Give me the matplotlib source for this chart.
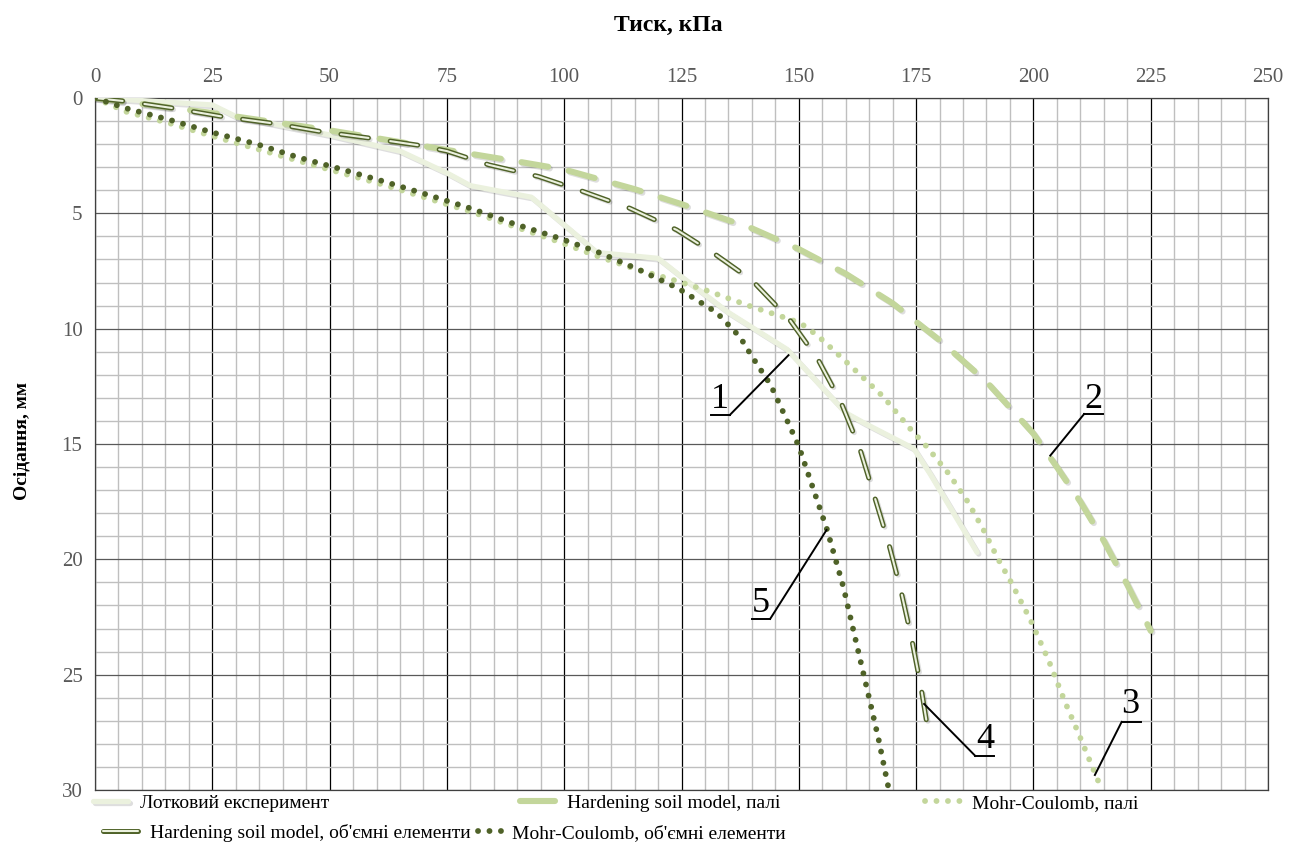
import matplotlib
matplotlib.use('Agg')
import matplotlib.pyplot as plt
import matplotlib.patheffects as pe
from matplotlib.ticker import MultipleLocator
from matplotlib.lines import Line2D

plt.rcParams['font.family'] = ['Liberation Serif', 'DejaVu Serif']
plt.rcParams['lines.scale_dashes'] = False

# Лотковий експеримент
exp_p = [0, 7.5, 25, 30, 50, 65, 75, 80, 93, 100, 107, 120, 125, 135, 147.5, 160, 164, 174.5, 178, 188]
exp_s = [0, 0.08, 0.3, 0.8, 1.6, 2.3, 3.25, 3.8, 4.3, 5.5, 6.7, 6.95, 7.75, 9.3, 10.9, 13.65, 14.1, 15.2, 16.3, 19.7]

# Hardening soil model, палі
hsp_p = [0, 25, 50, 75, 90, 100, 115, 125, 140, 150, 160, 170, 180, 190, 200, 205, 210, 215, 220, 225]
hsp_s = [0, 0.65, 1.4, 2.25, 2.75, 3.1, 3.95, 4.6, 5.65, 6.55, 7.62, 8.9, 10.5, 12.3, 14.55, 16.0, 17.5, 19.2, 21.1, 23.1]

# Mohr-Coulomb, палі
mcp_p = [0, 6.75, 16, 25, 43.3, 61.8, 80, 98.4, 107, 115, 123.3, 130, 140, 146, 150.3, 154, 157.5,
         162.7, 168, 174, 177.2, 182, 186, 189.3, 192.5, 195, 199.3, 203.2, 206.7, 209.6, 213.1, 214.2]
mcp_s = [0, 0.6, 1.1, 1.65, 2.72, 3.78, 4.92, 6.2, 6.85, 7.4, 7.89, 8.32, 9.05, 9.45, 9.75, 10.3, 10.95,
         11.93, 12.95, 14.4, 15.1, 16.3, 17.5, 18.7, 20.0, 20.9, 22.6, 24.36, 26.17, 27.54, 29.27, 29.8]

# Hardening soil model, об'ємні елементи
hsv_p = [0, 7, 17, 27, 38, 48, 59, 69, 75, 84, 94.5, 104, 114, 124, 132, 140, 148, 154, 159,
         163, 166, 169, 171.7, 174, 176, 177.2]
hsv_s = [0, 0.15, 0.45, 0.8, 1.1, 1.45, 1.75, 2.05, 2.3, 2.9, 3.4, 4.05, 4.78, 5.72, 6.75, 7.9, 9.6, 11.3, 13.2,
         15.2, 17.2, 19.2, 21.3, 23.4, 25.5, 27.0]

# Mohr-Coulomb, об'ємні елементи
mcv_p = [0, 6.75, 16, 25, 34.5, 43.3, 52.6, 61.8, 71, 80, 89, 98.4, 107, 115.8, 124.3, 132.5, 137.5,
         140, 144, 148, 150, 153, 156, 159.5, 162, 165.2, 167, 169]
mcv_s = [0, 0.45, 0.95, 1.49, 2.0, 2.57, 3.09, 3.63, 4.2, 4.78, 5.43, 6.04, 6.66, 7.43, 8.25, 9.3, 10.37,
         11.2, 12.44, 14.2, 15.1, 16.9, 18.7, 21.2, 23.4, 26.2, 27.8, 29.8]

labels = ['Лотковий експеримент', 'Hardening soil model, палі', 'Mohr-Coulomb, палі',
          "Hardening soil model, об'ємні елементи", "Mohr-Coulomb, об'ємні елементи"]

light = '#EBF1DE'
mid = '#C3D69B'
dark = '#4F6228'
shadow = [pe.SimpleLineShadow(offset=(1.2, -1.2), alpha=0.13, shadow_color='k'), pe.Normal()]
dots = (0.05, 8.2)

fig = plt.figure(figsize=(12.98, 8.43), dpi=100)
ax = fig.add_axes([0.0732, 0.0629, 0.9037, 0.8208])

l1, = ax.plot(exp_p, exp_s, color=light, lw=3.8, solid_capstyle='round', solid_joinstyle='round',
              path_effects=shadow, zorder=3)
l2, = ax.plot(hsp_p, hsp_s, color=mid, lw=4.4, dashes=(19.5, 15), dash_capstyle='round',
              path_effects=shadow, zorder=4)
l3, = ax.plot(mcp_p, mcp_s, color=mid, lw=4.2, dashes=dots, dash_capstyle='round', zorder=5)
l4a, = ax.plot(hsv_p, hsv_s, color=dark, lw=3.6, dashes=(20, 15.8), dash_capstyle='round',
               path_effects=shadow, zorder=6)
l4b, = ax.plot(hsv_p, hsv_s, color=light, lw=1.5, dashes=(20, 15.8), dash_capstyle='round', zorder=6)
l5, = ax.plot(mcv_p, mcv_s, color=dark, lw=4.2, dashes=dots, dash_capstyle='round', zorder=7)

ax.set_xlim(0, 250)
ax.set_ylim(30, 0)
ax.xaxis.set_major_locator(MultipleLocator(25))
ax.xaxis.set_minor_locator(MultipleLocator(5))
ax.yaxis.set_major_locator(MultipleLocator(5))
ax.yaxis.set_minor_locator(MultipleLocator(1))
ax.grid(which='minor', color='#BFBFBF', lw=1.0, zorder=0)
ax.grid(which='major', axis='x', color='#000000', lw=0.9, zorder=1)
ax.grid(which='major', axis='y', color='#595959', lw=0.9, zorder=1)
ax.set_axisbelow(True)
for sp in ax.spines.values():
    sp.set_color('#404040')
    sp.set_linewidth(0.9)

ax.xaxis.tick_top()
ax.tick_params(which='both', length=0)
ax.tick_params(axis='x', labelsize=15, labelcolor='#595959', pad=8)
ax.tick_params(axis='y', labelsize=15, labelcolor='#595959', pad=9)

fig.text(0.5146, 0.970, 'Тиск, кПа', ha='center', va='center', fontsize=17, fontweight='bold')
fig.text(0.017, 0.4765, 'Осідання, мм', ha='center', va='center', rotation=90, fontsize=14,
         fontweight='bold')

# curve numbers with leader lines
marks = [
    ('1', (133.2, 13.09), (131.3, 135.3, 13.74), (147.8, 11.15)),
    ('2', (212.7, 13.09), (210.8, 214.8, 13.70), (203.6, 15.5)),
    ('3', (220.6, 26.30), (218.8, 222.9, 27.05), (213.1, 29.35)),
    ('4', (189.7, 27.83), (187.6, 191.6, 28.52), (176.7, 26.27)),
    ('5', (141.9, 21.90), (140.0, 143.9, 22.58), (155.9, 18.73)),
]
for num, txt_xy, ul, tip in marks:
    ax.text(txt_xy[0], txt_xy[1], num, ha='center', va='center', fontsize=26, zorder=9)
    ax.plot([ul[0], ul[1]], [ul[2], ul[2]], color='k', lw=1.4, zorder=9)
    start_x = ul[0] if num in ('2', '3', '4') else ul[1]
    ax.plot([start_x, tip[0]], [ul[2], tip[1]], color='k', lw=1.4, zorder=9)

# legend entries, laid out in two rows
h4 = (Line2D([], [], color=dark, lw=3.6, solid_capstyle='round'),
      Line2D([], [], color=light, lw=1.5, solid_capstyle='round'))
h2 = Line2D([], [], color=mid, lw=4.4, solid_capstyle='round')
entries = [
    (l1, labels[0], 93, 803, 1.8, 0.6),
    (h2, labels[1], 520, 803, 1.8, 0.6),
    (l3, labels[2], 925, 803, 1.8, 0.6),
    (h4, labels[3], 103, 833, 1.8, 0.6),
    (l5, labels[4], 478, 833, 1.3, 0.45),
]
for h, lab, px, py, hl, tp in entries:
    fig.legend([h], [lab], loc='center left', bbox_to_anchor=(px / 1298, 1 - py / 843),
               frameon=False, fontsize=14, handlelength=hl, handletextpad=tp,
               borderpad=0, borderaxespad=0)

fig.savefig('out.png', dpi=100)
